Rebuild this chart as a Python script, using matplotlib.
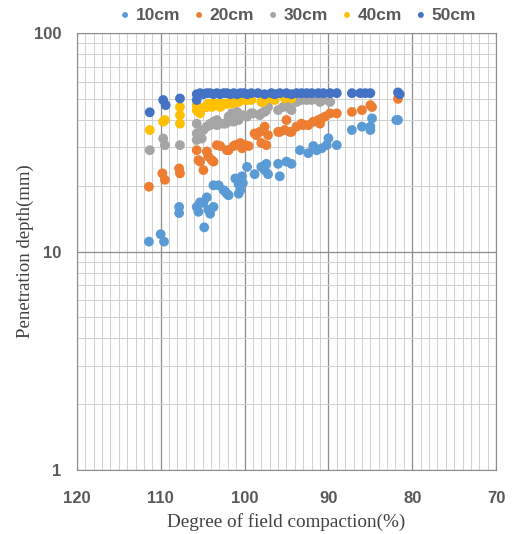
import numpy as np
import matplotlib
matplotlib.use('Agg')
import matplotlib.pyplot as plt
from matplotlib.ticker import MultipleLocator, LogLocator, FixedLocator, NullFormatter

#data (degree of compaction %, penetration depth mm)
x10 = [111.4, 110.0, 109.6, 107.8, 107.8, 105.7, 105.5, 105.3, 104.9, 104.5, 104.3, 104.1, 103.7, 104.8,
       103.7, 103.1, 102.5, 102.1, 102.3, 101.9, 101.1, 100.7, 100.3, 100.5, 100.7, 100.2, 99.7, 98.8,
       98.0, 97.4, 97.2, 97.6, 96.0, 95.8, 95.0, 94.4, 93.4, 92.4, 91.8, 91.4, 90.8, 90.0, 90.2, 89.0,
       87.2, 86.0, 85.0, 84.8, 85.0, 81.9, 81.7]
y10 = [11.1, 12.0, 11.1, 16.0, 15.0, 16.0, 15.2, 16.8, 16.7, 17.7, 15.5, 14.9, 16.0, 12.9,
       20.1, 20.1, 19.1, 18.4, 18.8, 18.1, 21.6, 20.3, 22.1, 19.1, 18.4, 20.6, 24.4, 22.6,
       24.4, 25.2, 22.6, 23.6, 25.2, 22.1, 25.8, 25.2, 29.1, 28.2, 30.4, 29.1, 29.7, 33.0, 30.7, 30.7,
       36.0, 37.3, 36.0, 40.7, 37.3, 40.0, 40.0]

x20 = [111.4, 109.8, 109.5, 107.8, 107.7, 105.7, 105.3, 104.9, 103.9, 103.7, 105.5, 104.5, 104.3,
       103.3, 102.9, 102.1, 101.3, 100.5, 99.9, 100.3, 101.9, 101.1, 99.5, 98.6, 98.8, 98.2, 97.6,
       97.2, 97.4, 98.0, 96.0, 95.8, 95.2, 95.0, 94.6, 94.4, 93.8, 93.0, 93.2, 92.4, 91.8, 91.2,
       90.8, 91.0, 90.4, 89.8, 89.0, 87.2, 86.0, 85.0, 84.8, 81.7]
y20 = [19.8, 22.8, 21.3, 24.0, 22.8, 29.1, 25.8, 23.6, 26.2, 25.8, 26.2, 28.7, 27.2,
       30.7, 30.4, 29.1, 30.4, 31.4, 30.7, 29.7, 29.1, 30.7, 30.4, 34.1, 34.7, 35.3, 37.3,
       34.1, 30.7, 31.4, 35.3, 35.3, 36.0, 40.0, 35.3, 35.3, 37.3, 37.9, 38.5, 37.9, 39.3, 40.0,
       40.7, 38.5, 41.5, 42.9, 42.9, 43.6, 44.4, 46.8, 45.9, 50.0]

x30 = [111.3, 109.7, 109.5, 107.7, 105.7, 105.3, 105.7, 105.1, 104.5, 104.1, 103.7, 103.3, 102.9,
       102.3, 101.9, 105.7, 104.9, 104.1, 103.3, 102.5, 101.9, 101.3, 100.7, 100.2, 99.7, 99.0,
       98.2, 97.6, 97.2, 101.5, 100.9, 99.2, 98.0, 97.4, 96.0, 95.4, 95.0, 94.4, 94.8, 93.8, 93.2,
       92.6, 92.0, 91.2, 90.6, 91.0, 89.8]
y30 = [29.1, 32.9, 30.7, 30.7, 38.5, 35.3, 32.4, 32.9, 37.3, 38.5, 39.3, 37.9, 38.5,
       38.5, 39.3, 34.7, 36.0, 37.9, 40.0, 38.5, 41.5, 39.3, 40.0, 42.1, 41.5, 42.9,
       42.1, 43.6, 45.9, 42.9, 43.6, 42.9, 42.9, 44.4, 44.4, 45.9, 46.8, 44.4, 45.9, 48.4, 49.4,
       49.4, 49.4, 49.4, 49.4, 48.4, 48.4]

x40 = [111.3, 109.7, 109.5, 107.7, 107.7, 107.7, 105.7, 105.5, 105.1, 104.7, 104.3, 103.9, 103.5,
       103.1, 102.7, 102.1, 101.7, 105.7, 105.3, 104.5, 103.7, 102.9, 102.1, 101.3, 99.7, 97.8,
       96.6, 102.3, 101.5, 100.7, 99.9, 99.2, 98.0, 97.6, 97.2, 96.4, 95.2, 94.4]
y40 = [36.0, 39.3, 40.0, 45.9, 42.1, 38.5, 46.8, 43.6, 45.2, 45.9, 47.6, 45.9, 46.8,
       47.6, 46.8, 47.6, 47.6, 44.4, 42.9, 45.9, 47.6, 45.9, 47.6, 48.4, 49.4, 48.4,
       50.3, 47.6, 47.6, 48.4, 49.4, 49.4, 48.4, 49.4, 50.3, 49.4, 50.3, 50.3]

x50 = [111.3, 109.7, 109.4, 107.7, 105.7, 105.3, 104.9, 104.5, 104.1, 103.7, 103.3, 102.9, 102.5,
       102.1, 101.7, 101.3, 100.9, 100.5, 100.1, 99.7, 99.2, 98.4, 97.6, 96.8, 96.4, 95.8, 95.0,
       94.4, 93.8, 93.2, 92.6, 92.0, 91.2, 90.6, 89.8, 89.0, 87.2, 86.2, 85.6, 85.0, 81.7, 81.5, 105.7]
y50 = [43.4, 49.4, 46.8, 50.2, 52.5, 53.1, 52.5, 53.1, 53.1, 52.5, 53.1, 52.5, 53.1,
       53.1, 52.5, 53.1, 52.5, 53.1, 53.1, 52.5, 53.1, 53.1, 52.5, 53.1, 52.5, 53.1, 53.1,
       52.5, 53.1, 53.1, 53.1, 53.1, 53.1, 53.1, 53.1, 53.1, 53.1, 53.1, 53.1, 53.1, 53.5, 52.5, 49.4]

labels = ['10cm', '20cm', '30cm', '40cm', '50cm']
colors = ['#5B9BD5', '#ED7D31', '#A5A5A5', '#FFC000', '#4472C4']
xs = [x10, x20, x30, x40, x50]
ys = [y10, y20, y30, y40, y50]

fig = plt.figure(figsize=(5.12, 5.34), dpi=100)
ax = fig.add_axes([0.150, 0.120, 0.819, 0.818])

for x, y, c, lab in zip(xs, ys, colors, labels):
    ax.scatter(x, y, s=50, color=c, edgecolors='none', label=lab, zorder=3)

ax.set_yscale('log')
ax.set_ylim(1, 100)
ax.set_xlim(120, 70)

ax.xaxis.set_major_locator(MultipleLocator(10))
ax.xaxis.set_minor_locator(MultipleLocator(1))
ax.yaxis.set_major_locator(FixedLocator([1, 10, 100]))
ax.yaxis.set_major_formatter(plt.FuncFormatter(lambda v, p: '%d' % v))
ax.yaxis.set_minor_locator(LogLocator(base=10, subs=np.arange(2, 10)))
ax.yaxis.set_minor_formatter(NullFormatter())

ax.grid(True, which='major', color='#8C8C8C', linewidth=0.9, zorder=0)
ax.grid(True, which='minor', color='#D0D0D0', linewidth=0.7, zorder=0)
ax.set_axisbelow(True)
for sp in ax.spines.values():
    sp.set_color('#8C8C8C')
ax.tick_params(which='both', length=0, colors='#595959', labelsize=12)
ax.tick_params(axis='x', pad=15)
ax.tick_params(axis='y', pad=11)
for t in ax.get_xticklabels() + ax.get_yticklabels():
    t.set_fontweight('bold')
    t.set_fontfamily('Liberation Sans')

ax.set_xlabel('Degree of field compaction(%)', family='Liberation Serif', fontsize=13.8,
              color='#404040', labelpad=5)
ax.set_ylabel('Penetration depth(mm)', family='Liberation Serif', fontsize=13.5,
              color='#404040', labelpad=0)

leg = fig.legend(loc='center', bbox_to_anchor=(0.58, 0.972), ncol=5, frameon=False,
                 markerscale=0.6, handletextpad=0.2, columnspacing=0.7, handlelength=0.8,
                 prop={'family': 'Liberation Sans', 'weight': 'bold', 'size': 12.5})
for t in leg.get_texts():
    t.set_color('#595959')

fig.savefig('out.png', dpi=100)
